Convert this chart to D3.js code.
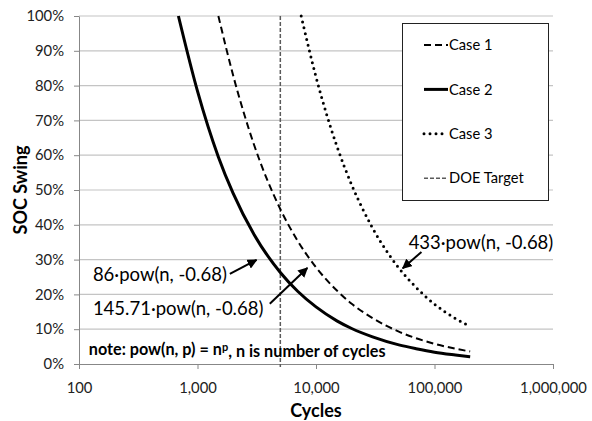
<!DOCTYPE html>
<html>
<head>
<meta charset="utf-8">
<script src="https://cdn.jsdelivr.net/npm/d3@7"></script>
<style>
  body { margin: 0; background: #fff; }
  text { font-family: Lato, "Liberation Sans", sans-serif; }
</style>
</head>
<body>
<svg id="chart" width="592" height="421"></svg>
<script>
// values (cycles, SOC swing as fraction)
var case1_n   = [1500, 2000, 3000, 5000, 7000, 10000, 15000, 20000, 30000, 50000, 70000, 100000, 150000, 200000];
var case1_soc = [1.0, 0.829, 0.630, 0.445, 0.354, 0.278, 0.211, 0.173, 0.132, 0.093, 0.074, 0.058, 0.044, 0.036];

var case2_n   = [690, 1000, 1500, 2000, 3000, 5000, 7000, 10000, 15000, 20000, 30000, 50000, 70000, 100000, 150000, 200000];
var case2_soc = [1.0, 0.784, 0.595, 0.490, 0.372, 0.263, 0.209, 0.164, 0.124, 0.102, 0.078, 0.055, 0.044, 0.034, 0.026, 0.021];

var case3_n   = [7500, 10000, 15000, 20000, 30000, 50000, 70000, 100000, 150000, 200000];
var case3_soc = [1.0, 0.825, 0.626, 0.515, 0.391, 0.276, 0.220, 0.172, 0.131, 0.108];

var doe_target = 5000;

var x_ticks = [100, 1000, 10000, 100000, 1000000];
var y_ticks = [0, 0.1, 0.2, 0.3, 0.4, 0.5, 0.6, 0.7, 0.8, 0.9, 1.0];

var svg = d3.select("#chart"),
    margin = {top: 16, right: 39, bottom: 57, left: 79},
    width = +svg.attr("width") - margin.left - margin.right,
    height = +svg.attr("height") - margin.top - margin.bottom,
    g = svg.append("g").attr("transform", "translate(" + margin.left + "," + margin.top + ")");

var x = d3.scaleLog().domain([100, 1000000]).range([0, width]);
var y = d3.scaleLinear().domain([0, 1]).range([height, 0]);

// arrow head
svg.append("defs").append("marker")
    .attr("id", "arrow")
    .attr("viewBox", "0 0 10 10")
    .attr("refX", 9).attr("refY", 5)
    .attr("markerWidth", 5).attr("markerHeight", 5)
    .attr("orient", "auto")
  .append("path")
    .attr("d", "M0,0 L10,5 L0,10 z")
    .attr("fill", "#000");

// gridlines
g.append("g")
  .selectAll("line")
  .data(y_ticks.slice(1))
  .enter().append("line")
    .attr("x1", 0).attr("x2", width)
    .attr("y1", function(d) { return y(d); })
    .attr("y2", function(d) { return y(d); })
    .attr("stroke", "#c4c4c4")
    .attr("stroke-width", 1.2);

// axes
var xAxis = g.append("g")
    .attr("transform", "translate(0," + height + ")")
    .call(d3.axisBottom(x).tickValues(x_ticks).tickFormat(d3.format(",")).tickSizeInner(5).tickSizeOuter(0));

var yAxis = g.append("g")
    .call(d3.axisLeft(y).tickValues(y_ticks).tickFormat(d3.format(".0%")).tickSizeInner(5).tickSizeOuter(0).tickPadding(10));

[xAxis, yAxis].forEach(function(a) {
  a.select(".domain").attr("stroke", "#878787");
  a.selectAll(".tick line").attr("stroke", "#878787");
  a.selectAll(".tick text")
    .attr("fill", "#222")
    .style("font-size", "14.8px")
    .style("font-family", "Lato, sans-serif");
});
xAxis.selectAll(".tick text").attr("y", 29).attr("dy", 0);

// axis titles
svg.append("text")
    .attr("x", margin.left + width / 2)
    .attr("y", 417)
    .attr("text-anchor", "middle")
    .style("font-size", "18px")
    .style("font-weight", "bold")
    .text("Cycles");

svg.append("text")
    .attr("transform", "translate(27," + (margin.top + height / 2) + ") rotate(-90)")
    .attr("text-anchor", "middle")
    .style("font-size", "18px")
    .style("font-weight", "bold")
    .text("SOC Swing");

// DOE target
g.append("line")
    .attr("x1", x(doe_target)).attr("x2", x(doe_target))
    .attr("y1", y(1)).attr("y2", height + 3)
    .attr("stroke", "#5a5a5a")
    .attr("stroke-width", 1.5)
    .attr("stroke-dasharray", "4,2");

// curves
var series = [
  {name: "Case 1", n: case1_n, soc: case1_soc, width: 2, dash: "7,4", cap: "butt"},
  {name: "Case 2", n: case2_n, soc: case2_soc, width: 3, dash: null, cap: "butt"},
  {name: "Case 3", n: case3_n, soc: case3_soc, width: 3, dash: "0,6", cap: "round"}
];

var line = d3.line()
    .x(function(d) { return x(d[0]); })
    .y(function(d) { return y(d[1]); })
    .curve(d3.curveMonotoneX);

g.selectAll(".serie")
  .data(series)
  .enter().append("path")
    .attr("class", "serie")
    .attr("d", function(s) { return line(d3.zip(s.n, s.soc)); })
    .attr("fill", "none")
    .attr("stroke", "#000")
    .attr("stroke-width", function(s) { return s.width; })
    .attr("stroke-dasharray", function(s) { return s.dash; })
    .attr("stroke-linecap", function(s) { return s.cap; });

// annotations (anchors in cycles / SOC)
var notes = [
  {text: "86·pow(n, -0.68)",     at: [131, 0.256],   from: [1875, 0.259], to: [3150, 0.299]},
  {text: "145.71·pow(n, -0.68)", at: [131, 0.159],   from: [4075, 0.173], to: [8450, 0.276]},
  {text: "433·pow(n, -0.68)",    at: [60500, 0.349], from: [77600, 0.322], to: [53950, 0.275]}
];

var ann = g.selectAll(".ann")
  .data(notes)
  .enter().append("g")
    .attr("class", "ann");

ann.append("text")
    .attr("x", function(d) { return x(d.at[0]); })
    .attr("y", function(d) { return y(d.at[1]); })
    .attr("dy", "0.35em")
    .style("font-size", "18.5px")
    .text(function(d) { return d.text; });

ann.append("line")
    .attr("x1", function(d) { return x(d.from[0]); })
    .attr("y1", function(d) { return y(d.from[1]); })
    .attr("x2", function(d) { return x(d.to[0]); })
    .attr("y2", function(d) { return y(d.to[1]); })
    .attr("stroke", "#000")
    .attr("stroke-width", 2)
    .attr("marker-end", "url(#arrow)");

var note = g.append("text")
    .attr("x", x(121))
    .attr("y", y(0.041))
    .attr("dy", "0.35em")
    .style("font-size", "16.2px")
    .style("font-weight", "bold");
note.append("tspan").text("note: pow(n, p) = n");
note.append("tspan").attr("dy", "-0.4em").style("font-size", "11px").text("p");
note.append("tspan").attr("dy", "0.4em").text(", n is number of cycles");

// legend
var legend_items = [
  {name: "Case 1", width: 2, dash: "7,4", cap: "butt", color: "#000"},
  {name: "Case 2", width: 3, dash: null, cap: "butt", color: "#000"},
  {name: "Case 3", width: 3, dash: "0,6", cap: "round", color: "#000"},
  {name: "DOE Target", width: 1.5, dash: "4,2", cap: "butt", color: "#5a5a5a"}
];

var lg = svg.append("g").attr("transform", "translate(402,23)");
lg.append("rect")
    .attr("x", 0.5).attr("y", 0.5)
    .attr("width", 146).attr("height", 177)
    .attr("fill", "#fff")
    .attr("stroke", "#222")
    .attr("stroke-width", 1);

var item = lg.selectAll(".legend")
  .data(legend_items)
  .enter().append("g")
    .attr("class", "legend")
    .attr("transform", function(d, i) { return "translate(0," + (22 + i * 44.4) + ")"; });

item.append("line")
    .attr("x1", 22).attr("x2", 46)
    .attr("stroke", function(d) { return d.color; })
    .attr("stroke-width", function(d) { return d.width; })
    .attr("stroke-dasharray", function(d) { return d.dash; })
    .attr("stroke-linecap", function(d) { return d.cap; });

item.append("text")
    .attr("x", 47)
    .attr("dy", "0.35em")
    .style("font-size", "14.7px")
    .text(function(d) { return d.name; });
</script>
</body>
</html>
